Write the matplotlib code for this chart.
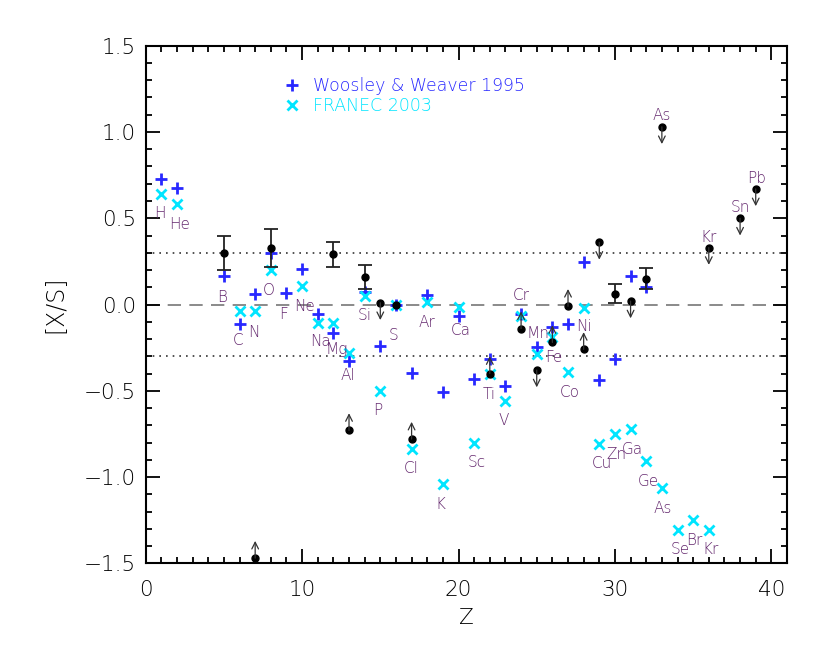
import matplotlib
matplotlib.use("Agg")
import matplotlib.pyplot as plt
import numpy as np

plt.rcParams['font.family'] = ['DejaVu Sans']

# model predictions
z_ww = [1, 2, 5, 6, 7, 8, 9, 10, 11, 12, 13, 14, 15, 16, 17, 18, 19, 20,
        21, 22, 23, 24, 25, 26, 27, 28, 29, 30, 31, 32]
ww95 = [0.73, 0.675, 0.165, -0.115, 0.06, 0.30, 0.065, 0.206, -0.057, -0.163,
        -0.33, 0.074, -0.24, 0.0, -0.395, 0.053, -0.505, -0.065,
        -0.43, -0.318, -0.47, -0.055, -0.245, -0.132, -0.113, 0.248,
        -0.438, -0.318, 0.165, 0.103]

z_fr = [1, 2, 6, 7, 8, 10, 11, 12, 13, 14, 15, 16, 17, 18, 19, 20, 21, 22,
        23, 24, 25, 26, 27, 28, 29, 30, 31, 32, 33, 34, 35, 36]
franec = [0.64, 0.58, -0.036, -0.04, 0.20, 0.11, -0.105, -0.105, -0.28, 0.05,
          -0.50, 0.0, -0.836, 0.015, -1.043, -0.016, -0.80, -0.40,
          -0.56, -0.066, -0.287, -0.19, -0.393, -0.022, -0.807, -0.753,
          -0.724, -0.907, -1.064, -1.305, -1.251, -1.305]

# observed abundances with errors
z_det = [5, 8, 12, 14, 30, 32]
obs_det = [0.30, 0.33, 0.29, 0.16, 0.06, 0.15]
err_hi = [0.10, 0.11, 0.07, 0.07, 0.057, 0.06]
err_lo = [0.10, 0.11, 0.07, 0.07, 0.053, 0.06]
z_plain = [16]
obs_plain = [0.0]

# upper limits (arrow down) and lower limits (arrow up)
z_upper = [15, 25, 29, 31, 33, 36, 38, 39]
obs_upper = [0.01, -0.38, 0.36, 0.02, 1.03, 0.33, 0.50, 0.67]
z_lower = [7, 13, 17, 22, 24, 26, 27, 28]
obs_lower = [-1.47, -0.73, -0.78, -0.40, -0.14, -0.22, -0.01, -0.26]

# element name labels
lab_names = ['H', 'He', 'B', 'C', 'N', 'O', 'F', 'Ne', 'Na', 'Mg', 'Al', 'Si',
             'P', 'S', 'Cl', 'Ar', 'K', 'Ca', 'Sc', 'Ti', 'V', 'Cr', 'Mn', 'Fe',
             'Co', 'Ni', 'Cu', 'Zn', 'Ga', 'Ge', 'As', 'Se', 'Br', 'Kr',
             'As', 'Kr', 'Sn', 'Pb']
lab_x = [0.91, 2.15, 4.88, 5.88, 6.9, 7.86, 8.84, 10.16, 11.16, 12.2, 12.95,
         13.99, 14.86, 15.87, 17.0, 17.99, 18.87, 20.15, 21.15, 21.94, 22.88,
         24.03, 25.09, 26.09, 27.11, 28.0, 29.14, 30.1, 31.12, 32.12, 33.07,
         34.14, 35.08, 36.08, 32.99, 35.99, 38.04, 39.08]
lab_y = [0.525, 0.465, 0.04, -0.21, -0.16, 0.084, -0.057, -0.01, -0.215, -0.26,
         -0.41, -0.065, -0.617, -0.177, -0.95, -0.105, -1.157, -0.15, -0.917,
         -0.52, -0.67, 0.05, -0.167, -0.31, -0.51, -0.13, -0.92, -0.867,
         -0.843, -1.025, -1.18, -1.42, -1.37, -1.42, 1.095, 0.39, 0.56, 0.73]

blue = '#2828ff'
cyan = '#00e5ff'
purple = '#64286e'
arrow_len = 0.1

fig = plt.figure(figsize=(8.3, 6.56), dpi=100)
ax = fig.add_axes([0.1755, 0.1413, 0.7727, 0.789])

# reference lines
ax.axhline(0.0, color='#777777', lw=1.2, ls=(0, (8, 5)), zorder=1)
ax.axhline(0.3, color='#333333', lw=1.2, ls=(0, (1, 3)), zorder=1)
ax.axhline(-0.3, color='#333333', lw=1.2, ls=(0, (1, 3)), zorder=1)

ax.plot(z_ww, ww95, ls='none', marker='+', ms=8, mew=2, color=blue,
        label='Woosley & Weaver 1995', zorder=3)
ax.plot(z_fr, franec, ls='none', marker='x', ms=7, mew=2, color=cyan,
        label='FRANEC 2003', zorder=3)

ax.errorbar(z_det, obs_det, yerr=[err_lo, err_hi], fmt='o', ms=5,
            color='black', ecolor='#222222', elinewidth=1.3, capsize=5,
            capthick=1.3, zorder=4)
ax.plot(z_plain, obs_plain, 'o', ms=5, color='black', zorder=4)
ax.plot(z_upper, obs_upper, 'o', ms=5, color='black', zorder=4)
ax.plot(z_lower, obs_lower, 'o', ms=5, color='black', zorder=4)

for zz, yy in zip(z_upper, obs_upper):
    ax.annotate('', xy=(zz, yy - arrow_len), xytext=(zz, yy),
                arrowprops=dict(arrowstyle='->', color='#333333', lw=0.9,
                                mutation_scale=12, shrinkA=0, shrinkB=0),
                zorder=4)
for zz, yy in zip(z_lower, obs_lower):
    ax.annotate('', xy=(zz, yy + arrow_len), xytext=(zz, yy),
                arrowprops=dict(arrowstyle='->', color='#333333', lw=0.9,
                                mutation_scale=12, shrinkA=0, shrinkB=0),
                zorder=4)

for name, lx, ly in zip(lab_names, lab_x, lab_y):
    ax.text(lx, ly, name, color=purple, fontsize=11, ha='center', va='center',
            fontweight='light')

leg = ax.legend(loc='upper left', bbox_to_anchor=(0.19, 0.969), frameon=False,
                fontsize=12.5, handlelength=1.0, handletextpad=0.7,
                labelspacing=0.1, labelcolor='markeredgecolor')
for t in leg.get_texts():
    t.set_fontweight('light')

ax.set_xlim(0, 41)
ax.set_ylim(-1.5, 1.5)
ax.set_xticks([0, 10, 20, 30, 40])
ax.set_yticks([-1.5, -1.0, -0.5, 0.0, 0.5, 1.0, 1.5])
ax.set_yticklabels(['\u22121.5', '\u22121.0', '\u22120.5', '0.0', '0.5', '1.0', '1.5'])
ax.xaxis.set_minor_locator(matplotlib.ticker.MultipleLocator(1))
ax.yaxis.set_minor_locator(matplotlib.ticker.MultipleLocator(0.1))
ax.tick_params(which='both', direction='in', top=True, right=True, width=1.3,
               labelsize=15.5)
ax.tick_params(which='major', length=10)
ax.tick_params(which='minor', length=4.5)
ax.tick_params(axis='x', which='major', pad=12)
ax.tick_params(axis='y', which='major', pad=7)
for lab in ax.get_xticklabels() + ax.get_yticklabels():
    lab.set_fontweight('light')
for sp in ax.spines.values():
    sp.set_linewidth(1.5)

ax.set_xlabel('Z', fontsize=15.5, labelpad=6, fontweight='light')
ax.set_ylabel('[X/S]', fontsize=17, labelpad=12, fontweight='light')

fig.savefig('out.png', dpi=100)
